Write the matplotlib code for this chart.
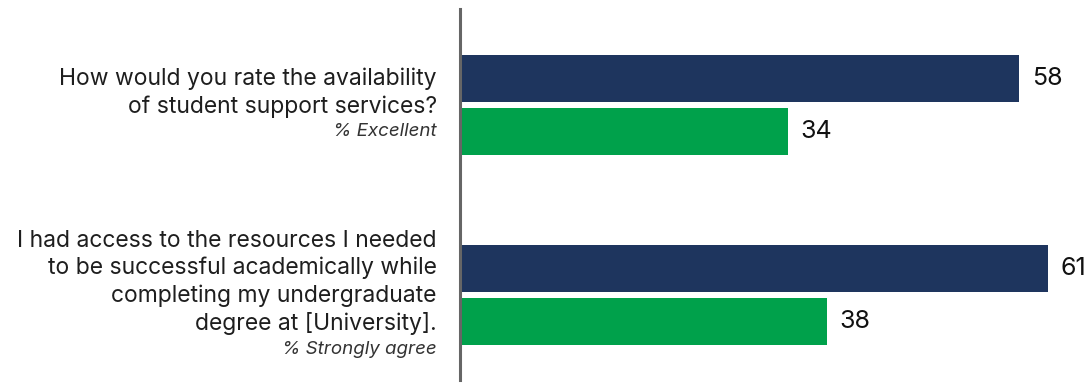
import numpy as np
import matplotlib.pyplot as plt

questions = [
    "How would you rate the availability\nof student support services?",
    "I had access to the resources I needed\nto be successful academically while\ncompleting my undergraduate\ndegree at [University].",
]
measures = ["% Excellent", "% Strongly agree"]
navy_vals = [58, 61]
green_vals = [34, 38]

NAVY = "#1E355E"
GREEN = "#00A14B"
TEXT = "#1E1E1E"

plt.rcParams['font.family'] = ['Inter', 'DejaVu Sans']

fig = plt.figure(figsize=(10.92, 3.83), dpi=100)
ax = fig.add_axes([460 / 1092, 3 / 383, 627 / 1092, 371 / 383])

y = np.arange(len(questions))
h = 0.247
off = 0.14
ax.barh(y - off, navy_vals, height=h, color=NAVY)
ax.barh(y + off, green_vals, height=h, color=GREEN)

for yi, v in zip(y - off, navy_vals):
    ax.annotate(str(v), (v, yi), xytext=(9, 0), textcoords="offset points",
                va="center", ha="left", fontsize=18, color="#111111")
for yi, v in zip(y + off, green_vals):
    ax.annotate(str(v), (v, yi), xytext=(9, 0), textcoords="offset points",
                va="center", ha="left", fontsize=18, color="#111111")

# question text on the left, with the measure in italics underneath
trans = ax.get_yaxis_transform()
for yi, q, m in zip(y, questions, measures):
    t = ax.annotate(q, (-0.037, yi), xycoords=trans, xytext=(0, 9),
                    textcoords="offset points", ha="right", va="center",
                    fontsize=16.5, color=TEXT, linespacing=1.3)
    ax.annotate(m, xy=(1, 0), xycoords=t, xytext=(0, -4), textcoords="offset points",
                ha="right", va="top", fontsize=13.5, style="italic", color="#333333")

ax.set_xlim(0, 65)
ax.set_ylim(1.447, -0.505)
ax.set_xticks([])
ax.set_yticks([])
for s in ["top", "right", "bottom"]:
    ax.spines[s].set_visible(False)
ax.spines["left"].set_color("#666666")
ax.spines["left"].set_linewidth(2.2)

fig.savefig("out.png", dpi=100)
